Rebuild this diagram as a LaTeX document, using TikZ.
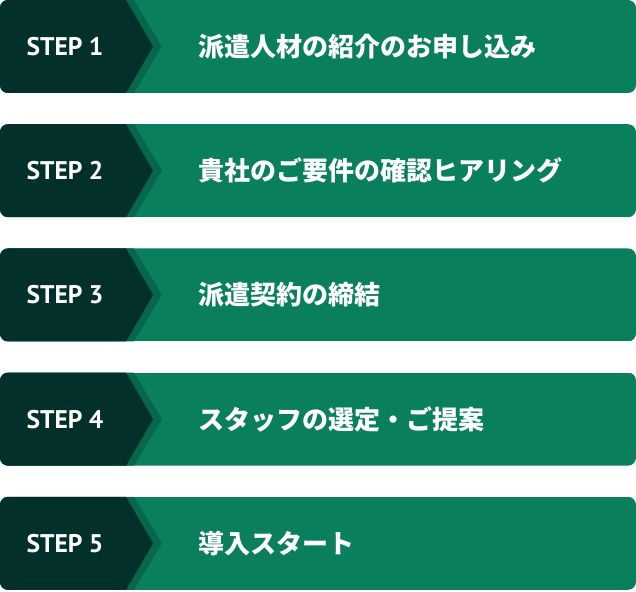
\documentclass[tikz,border=0pt]{standalone}
\usepackage{fontspec}
\setmainfont{PT Sans}
\newfontfamily\jpfont{Noto Sans CJK JP}
\usepackage{xcolor}
\usepackage{tikz}
\definecolor{barmain}{HTML}{0A7F5E}
\definecolor{barband}{HTML}{07674D}
\definecolor{bardark}{HTML}{03302A}

\tikzset{
  steplabel/.style={text=white, font=\bfseries\fontsize{25.5}{26}\selectfont, anchor=center},
  steptext/.style={text=white, font=\jpfont\bfseries\fontsize{26}{26}\selectfont, anchor=west}
}

\begin{document}
\begin{tikzpicture}[x=1pt, y=-1pt]
\useasboundingbox (0,0) rectangle (636,591);
\foreach \i/\txt in {0/派遣人材の紹介のお申し込み, 1/貴社のご要件の確認ヒアリング, 2/派遣契約の締結, 3/スタッフの選定・ご提案, 4/導入スタート}{
  \pgfmathsetmacro{\top}{\i*124.2}
  \pgfmathsetmacro{\bot}{\top+93}
  \pgfmathsetmacro{\mid}{\top+46.5}
  \begin{scope}
    \clip[rounded corners=8pt] (0,\top) rectangle (636,\bot);
    \fill[barmain] (0,\top) rectangle (636,\bot);
    \fill[barband] (0,\top) -- (134,\top) -- (162,\mid) -- (134,\bot) -- (0,\bot) -- cycle;
    \fill[bardark] (0,\top) -- (126,\top) -- (153,\mid) -- (126,\bot) -- (0,\bot) -- cycle;
  \end{scope}
  \pgfmathtruncatemacro{\n}{\i+1}
  \node[steplabel] (step\n) at (65,\mid) {STEP \n};
  \node[steptext] (text\n) at (195,\mid) {\txt};
}
\end{tikzpicture}
\end{document}
